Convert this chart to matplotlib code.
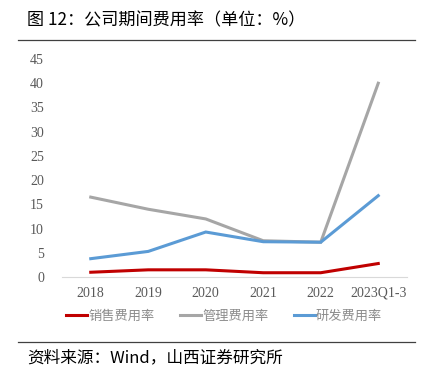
import matplotlib.pyplot as plt
from matplotlib.lines import Line2D

plt.rcParams['font.family'] = ['Liberation Serif', 'Noto Sans CJK SC']

years = ['2018', '2019', '2020', '2021', '2022', '2023Q1-3']
sales = [1.0, 1.5, 1.5, 0.9, 0.9, 2.8]
admin = [16.5, 14.0, 12.0, 7.5, 7.2, 40.0]
rnd = [3.8, 5.3, 9.3, 7.3, 7.2, 16.8]
labels = ['销售费用率', '管理费用率', '研发费用率']
colors = ['#C00000', '#A6A6A6', '#5B9BD5']

fig = plt.figure(figsize=(4.27, 3.77), dpi=100)
ax = fig.add_axes([62/427, 0.265, 345/427, 0.5785])

x = range(len(years))
# blue drawn last so it sits on top of gray where they overlap
for vals, c in zip([sales, admin, rnd], colors):
    ax.plot(x, vals, color=c, lw=2.2, solid_joinstyle='miter')

ax.set_xlim(-0.5, 5.5)
ax.set_ylim(0, 45)
ax.set_yticks(range(0, 46, 5))
ax.set_xticks(list(x))
ax.set_xticklabels(years)
ax.tick_params(length=0, labelsize=10, colors='#595959', pad=7)
ax.tick_params(axis='y', pad=13)
for s in ['top', 'right', 'left']:
    ax.spines[s].set_visible(False)
ax.spines['bottom'].set_color('#D9D9D9')

handles = [Line2D([], [], color=c, lw=2.2) for c in colors]
fig.legend(handles, labels, loc='center', bbox_to_anchor=(0.525, 1 - 316/377), ncol=3,
           frameon=False, handlelength=1.6, handletextpad=0.1, columnspacing=1.9,
           prop={'family': 'Noto Sans CJK SC', 'size': 9.5}, labelcolor='#8C8C8C')

fig.text(27/427, 1 - 20/377, '图 12：公司期间费用率（单位：%）', fontsize=12.3,
         family=['Noto Sans CJK SC'], va='center', ha='left')
fig.add_artist(Line2D([18/427, 415/427], [1 - 40/377] * 2, color='#404040', lw=0.9))
fig.add_artist(Line2D([18/427, 415/427], [1 - 342/377] * 2, color='#404040', lw=0.9))
fig.text(27/427, 1 - 358/377, '资料来源：Wind，山西证券研究所', fontsize=12,
         family=['Noto Sans CJK SC'], va='center', ha='left')

fig.savefig('out.png', dpi=100, facecolor='white')
